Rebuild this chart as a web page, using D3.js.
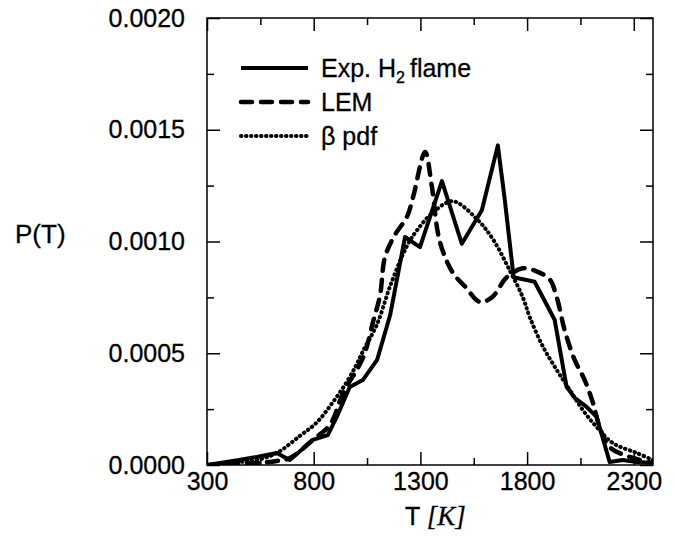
<!DOCTYPE html>
<html>
<head>
<meta charset="utf-8">
<script src="https://cdn.jsdelivr.net/npm/d3@7"></script>
<style>
  body { margin: 0; background: #fff; }
  svg { display: block; }
  .tick text { font-family: "Liberation Sans", Arial, sans-serif; font-size: 25px; fill: #000; stroke: #000; stroke-width: 0.3; }
  .tick line { stroke: #000; stroke-width: 1.5; }
  .label { font-family: "Liberation Sans", Arial, sans-serif; fill: #000; stroke: #000; stroke-width: 0.3; }
</style>
</head>
<body>
<div class="container"></div>
<script>
// temperature axis (K)
var xTicks = [300, 800, 1300, 1800, 2300];
var xMinor = [550, 1050, 1550, 2050];
var yTicks = [0, 0.0005, 0.0010, 0.0015, 0.0020];
var yMinor = [0.00025, 0.00075, 0.00125, 0.00175];

// Exp. H2 flame (solid)
var expT = [300, 450, 533, 627, 688, 796, 866, 908, 969, 1030, 1097, 1158, 1228, 1298, 1401,
            1494, 1588, 1663, 1695, 1737, 1835, 1929, 1985, 2023, 2079, 2126, 2187, 2248, 2314, 2389];
var expP = [0, 0.000022, 0.000036, 0.000054, 0.000022, 0.000112, 0.000134, 0.000215, 0.000349, 0.00038,
            0.00047, 0.00067, 0.00102, 0.000975, 0.00127, 0.00099, 0.00114, 0.00143, 0.00119, 0.00084,
            0.00082, 0.00065, 0.00035, 0.0003, 0.00026, 0.000215, 0.000013, 0.000022, 0.000013, 0.000009];

// LEM (dashed)
var lemT = [300, 547, 627, 688, 796, 876, 937, 1031, 1078, 1111, 1134, 1181, 1237, 1266, 1322, 1353,
            1391, 1452, 1508, 1578, 1635, 1705, 1780, 1836, 1906, 1939, 1977, 2023, 2070, 2108, 2140,
            2187, 2281, 2389];
var lemP = [0, 0.00001, 0.000018, 0.000031, 0.000112, 0.00018, 0.00032, 0.00048, 0.00064, 0.00076,
            0.00093, 0.00103, 0.00111, 0.0012, 0.0014, 0.00125, 0.001, 0.00086, 0.0008, 0.00073,
            0.00075, 0.00084, 0.00088, 0.00087, 0.00083, 0.00075, 0.0006, 0.00047, 0.00038, 0.00028,
            0.00017, 0.00008, 0.000036, 0.000009];

// beta pdf (dotted)
var betaT = [300, 453, 533, 627, 735, 814, 889, 954, 1001, 1031, 1097, 1158, 1237, 1284, 1359, 1452,
             1565, 1640, 1719, 1780, 1813, 1874, 1939, 2000, 2061, 2126, 2201, 2314, 2389];
var betaP = [0, 0.000013, 0.000022, 0.000054, 0.00013, 0.00019, 0.00028, 0.00037, 0.00045, 0.00051,
             0.00063, 0.0008, 0.00098, 0.00105, 0.00113, 0.00118, 0.0011, 0.00101, 0.00087, 0.00075,
             0.00066, 0.00053, 0.000425, 0.000336, 0.000246, 0.00017, 0.0000984, 0.0000537, 0.0000224];

var LEFT = 207, RIGHT = 653, TOP = 18, BOTTOM = 465;
var xScale = d3.scaleLinear().domain([300, 2390]).range([LEFT, RIGHT]);
var yScale = d3.scaleLinear().domain([0, 0.002]).range([BOTTOM, TOP]);

var zip = function (ts, ps) {
    return ts.map(function (t, i) { return {t: t, p: ps[i]}; });
};

var series = [
    {name: 'exp', data: zip(expT, expP), curve: d3.curveLinear, dash: null, width: 4, cap: 'butt'},
    {name: 'lem', data: zip(lemT, lemP), curve: d3.curveCatmullRom, dash: '11 9', width: 4.5, cap: 'round'},
    {name: 'beta', data: zip(betaT, betaP), curve: d3.curveCatmullRom, dash: '0.5 4.5', width: 4, cap: 'round'}
];

var svg = d3.select('.container').append('svg')
    .attr('width', 675)
    .attr('height', 542);

svg.append('clipPath').attr('id', 'plot')
    .append('rect')
    .attr('x', LEFT).attr('y', TOP)
    .attr('width', RIGHT - LEFT).attr('height', BOTTOM - TOP);

var drawAxis = function (axis, tx, ty, hideText) {
    var g = svg.append('g')
        .attr('transform', 'translate(' + tx + ',' + ty + ')')
        .call(axis);
    g.select('.domain').remove();
    if (hideText) g.selectAll('text').remove();
    return g;
};

var fmt = d3.format('.4f');

drawAxis(d3.axisBottom(xScale).tickValues(xTicks).tickSize(-13).tickPadding(7).tickFormat(d3.format('d')), 0, BOTTOM, false);
drawAxis(d3.axisBottom(xScale).tickValues(xMinor).tickSize(-7), 0, BOTTOM, true);
drawAxis(d3.axisTop(xScale).tickValues(xTicks).tickSize(-13), 0, TOP, true);
drawAxis(d3.axisTop(xScale).tickValues(xMinor).tickSize(-7), 0, TOP, true);

drawAxis(d3.axisLeft(yScale).tickValues(yTicks).tickSize(-13).tickPadding(22).tickFormat(fmt), LEFT, 0, false);
drawAxis(d3.axisLeft(yScale).tickValues(yMinor).tickSize(-7), LEFT, 0, true);
drawAxis(d3.axisRight(yScale).tickValues(yTicks).tickSize(-13), RIGHT, 0, true);
drawAxis(d3.axisRight(yScale).tickValues(yMinor).tickSize(-7), RIGHT, 0, true);

svg.append('rect')
    .attr('x', LEFT).attr('y', TOP)
    .attr('width', RIGHT - LEFT).attr('height', BOTTOM - TOP)
    .attr('fill', 'none')
    .attr('stroke', '#000')
    .attr('stroke-width', 1.5);

var plot = svg.append('g').attr('clip-path', 'url(#plot)');

series.forEach(function (s) {
    var line = d3.line()
        .x(function (d) { return xScale(d.t); })
        .y(function (d) { return yScale(d.p); })
        .curve(s.curve);
    plot.append('path')
        .datum(s.data)
        .attr('d', line)
        .attr('fill', 'none')
        .attr('stroke', '#000')
        .attr('stroke-width', s.width)
        .attr('stroke-linecap', s.cap)
        .attr('stroke-linejoin', 'round')
        .attr('stroke-dasharray', s.dash);
});

// legend
var legendY = [68, 102, 136];
series.forEach(function (s, i) {
    svg.append('line')
        .attr('x1', 241).attr('x2', 308)
        .attr('y1', legendY[i]).attr('y2', legendY[i])
        .attr('stroke', '#000')
        .attr('stroke-width', s.width)
        .attr('stroke-linecap', s.cap)
        .attr('stroke-dasharray', s.dash);
});

var t0 = svg.append('text').attr('class', 'label')
    .attr('x', 321).attr('y', legendY[0] + 9)
    .style('font-size', '25px');
t0.append('tspan').text('Exp. H');
t0.append('tspan').attr('dy', 6).style('font-size', '16px').text('2');
t0.append('tspan').attr('dy', -6).attr('dx', 5).text('flame');

svg.append('text').attr('class', 'label')
    .attr('x', 321).attr('y', legendY[1] + 9)
    .style('font-size', '25px')
    .text('LEM');

svg.append('text').attr('class', 'label')
    .attr('x', 321).attr('y', legendY[2] + 9)
    .style('font-size', '25px')
    .text('β pdf');

// axis titles
svg.append('text').attr('class', 'label')
    .attr('x', 15).attr('y', 243)
    .style('font-size', '26px')
    .text('P(T)');

var xt = svg.append('text').attr('class', 'label')
    .attr('x', 405).attr('y', 525)
    .style('font-size', '25px');
xt.append('tspan').text('T ');
xt.append('tspan')
    .style('font-family', '"Liberation Serif", "Times New Roman", serif')
    .style('font-style', 'italic')
    .style('font-size', '27px')
    .text('[K]');
</script>
</body>
</html>
